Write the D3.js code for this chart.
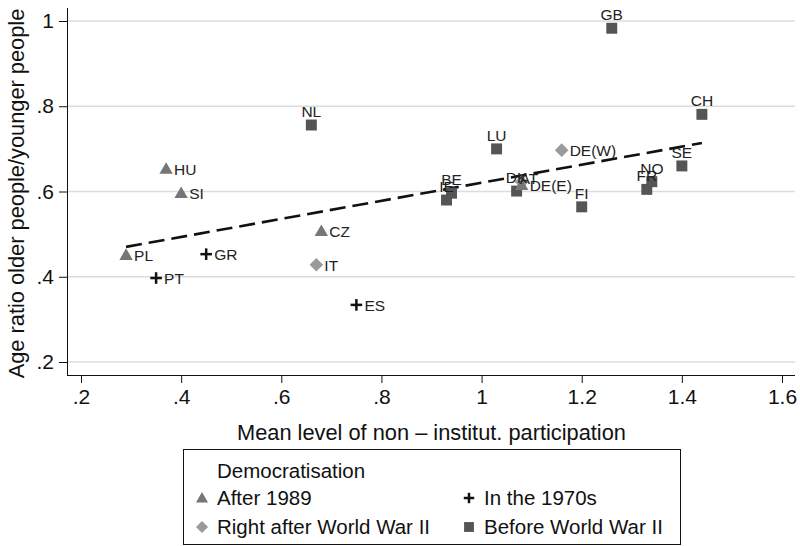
<!DOCTYPE html>
<html>
<head>
<meta charset="utf-8">
<script src="https://cdn.jsdelivr.net/npm/d3@7"></script>
<style>
  html, body { margin: 0; padding: 0; background: #fff; }
  svg { display: block; font-family: "Liberation Sans", Arial, Helvetica, sans-serif; }
</style>
</head>
<body>
<svg id="chart" width="800" height="546"></svg>
<script>
// Country codes, participation level (x) and age ratio (y), grouped by democratisation period
const countries = ["PL","HU","SI","GR","PT","CZ","IT","ES","NL","LU","IE","BE","DK","AT","DE(E)","FI","DE(W)","GB","CH","SE","NO","FR"];
const participation = [0.29,0.37,0.40,0.45,0.35,0.68,0.67,0.75,0.66,1.03,0.93,0.94,1.07,1.08,1.08,1.20,1.16,1.26,1.44,1.40,1.34,1.33];
const ageRatio = [0.451,0.653,0.596,0.453,0.397,0.507,0.428,0.334,0.756,0.700,0.580,0.596,0.601,0.622,0.615,0.564,0.697,0.983,0.781,0.660,0.623,0.605];
const period = ["After 1989","After 1989","After 1989","In the 1970s","In the 1970s","After 1989","Right after World War II","In the 1970s",
  "Before World War II","Before World War II","Before World War II","Before World War II","Before World War II","Right after World War II",
  "After 1989","Before World War II","Right after World War II","Before World War II","Before World War II","Before World War II",
  "Before World War II","Before World War II"];

const legendTitle = "Democratisation";
const legendOrder = ["After 1989","In the 1970s","Right after World War II","Before World War II"];

const xTicks = [0.2,0.4,0.6,0.8,1.0,1.2,1.4,1.6];
const xTickLabels = [".2",".4",".6",".8","1","1.2","1.4","1.6"];
const yTicks = [0.2,0.4,0.6,0.8,1.0];
const yTickLabels = [".2",".4",".6",".8","1"];
const xTitle = "Mean level of non \u2013 institut. participation";
const yTitle = "Age ratio older people/younger people";

// Marker style per group
const style = {
  "After 1989":               { shape: "triangle", fill: "#767676" },
  "Right after World War II": { shape: "diamond",  fill: "#9a9a9a" },
  "In the 1970s":             { shape: "plus",     fill: "#111" },
  "Before World War II":      { shape: "square",   fill: "#555" }
};
// Label placement (clock position around the marker)
const labelPos = { "Before World War II": 12 };
const labelOverride = { "AT": 1 };

const svg = d3.select("#chart");
const x = d3.scaleLinear().domain([0.2, 1.6]).range([81, 782]);
const y = d3.scaleLinear().domain([0.2, 1.0]).range([362, 21]);
const plotLeft = 67, plotRight = 795, plotBottom = 375, plotTop = 8;

// Gridlines
svg.append("g").selectAll("line").data(yTicks).join("line")
  .attr("x1", plotLeft).attr("x2", plotRight)
  .attr("y1", d => y(d)).attr("y2", d => y(d))
  .attr("stroke", "#dcdcdc").attr("stroke-width", 1.4);

// Axes
const xAxis = d3.axisBottom(x).tickValues(xTicks).tickSize(8).tickPadding(6)
  .tickFormat((d, i) => xTickLabels[i]);
const gx = svg.append("g").attr("transform", `translate(0,${plotBottom})`).call(xAxis);
gx.select(".domain").attr("d", `M${plotLeft},0.5H${plotRight}`).attr("stroke", "#111");
gx.selectAll(".tick line").attr("stroke", "#111");
gx.selectAll("text").attr("font-size", 21).attr("fill", "#111").attr("font-family", "Liberation Sans, Arial, sans-serif");

const yAxis = d3.axisLeft(y).tickValues(yTicks).tickSize(8).tickPadding(5)
  .tickFormat((d, i) => yTickLabels[i]);
const gy = svg.append("g").attr("transform", `translate(${plotLeft},0)`).call(yAxis);
gy.select(".domain").attr("d", `M0.5,${plotTop}V${plotBottom}`).attr("stroke", "#111");
gy.selectAll(".tick line").attr("stroke", "#111");
gy.selectAll("text").attr("font-size", 21).attr("fill", "#111").attr("font-family", "Liberation Sans, Arial, sans-serif");

// Axis titles
svg.append("text").attr("x", (x(0.2) + x(1.6)) / 2).attr("y", 440)
  .attr("text-anchor", "middle").attr("font-size", 21.8).attr("fill", "#111").text(xTitle);
svg.append("text").attr("transform", `translate(24,${(plotTop + plotBottom) / 2 + 2}) rotate(-90)`)
  .attr("text-anchor", "middle").attr("font-size", 21.8).attr("fill", "#111").text(yTitle);

// Least-squares fit over the observed participation range
const pts = countries.map((c, i) => ({ c, x: participation[i], y: ageRatio[i], g: period[i] }));
const mx = d3.mean(pts, d => d.x), my = d3.mean(pts, d => d.y);
const slope = d3.sum(pts, d => (d.x - mx) * (d.y - my)) / d3.sum(pts, d => (d.x - mx) ** 2);
const icpt = my - slope * mx;
const [x0, x1] = d3.extent(pts, d => d.x);
svg.append("line")
  .attr("x1", x(x0)).attr("y1", y(icpt + slope * x0))
  .attr("x2", x(x1)).attr("y2", y(icpt + slope * x1))
  .attr("stroke", "#111").attr("stroke-width", 2.6).attr("stroke-dasharray", "16,7");

// Marker drawing helper
function drawMarker(sel, shape, fill, cx, cy, scale = 1) {
  if (shape === "plus") {
    const h = 5.8 * scale;
    const g = sel.append("g").attr("transform", `translate(${cx},${cy})`);
    g.append("line").attr("x1", -h).attr("x2", h).attr("stroke", fill).attr("stroke-width", 2.5);
    g.append("line").attr("y1", -h).attr("y2", h).attr("stroke", fill).attr("stroke-width", 2.5);
    return;
  }
  if (shape === "diamond") {
    // square turned 45 degrees
    sel.append("path").attr("d", d3.symbol(d3.symbolSquare, 92 * scale * scale)())
      .attr("transform", `translate(${cx},${cy}) rotate(45)`)
      .attr("fill", fill);
    return;
  }
  const sym = { square: d3.symbolSquare, triangle: d3.symbolTriangle }[shape];
  const size = { square: 120, triangle: 78 }[shape] * scale * scale;
  sel.append("path").attr("d", d3.symbol(sym, size)())
    .attr("transform", `translate(${cx},${cy + (shape === "triangle" ? 1 : 0)})`)
    .attr("fill", fill);
}

const gm = svg.append("g");
pts.forEach(p => {
  const s = style[p.g];
  drawMarker(gm, s.shape, s.fill, x(p.x), y(p.y));
});

// Marker labels
const gl = svg.append("g").attr("font-size", 15.5).attr("fill", "#222");
pts.forEach(p => {
  const px = x(p.x), py = y(p.y);
  const pos = labelOverride[p.c] || labelPos[p.g] || 3;
  const t = gl.append("text").text(p.c);
  if (pos === 12) t.attr("x", px).attr("y", py - 8).attr("text-anchor", "middle");
  else if (pos === 1) t.attr("x", px - 2).attr("y", py + 2).attr("text-anchor", "start");
  else t.attr("x", px + 8).attr("y", py + 6).attr("text-anchor", "start");
});

// Legend: title row, then two columns of keys
const lg = svg.append("g");
lg.append("rect").attr("x", 183.5).attr("y", 449.5).attr("width", 497).attr("height", 95)
  .attr("fill", "#fff").attr("stroke", "#111").attr("stroke-width", 1);
lg.append("text").attr("x", 217).attr("y", 478).attr("font-size", 20.5).attr("fill", "#111").text(legendTitle);
legendOrder.forEach((g, i) => {
  const col = i % 2, row = Math.floor(i / 2);
  const tx = col === 0 ? 217 : 484, ly = 498 + row * 29;
  drawMarker(lg, style[g].shape, style[g].fill, tx - 15, ly, 0.9);
  lg.append("text").attr("x", tx).attr("y", ly + 7).attr("font-size", 20.5).attr("fill", "#111").text(g);
});
</script>
</body>
</html>
